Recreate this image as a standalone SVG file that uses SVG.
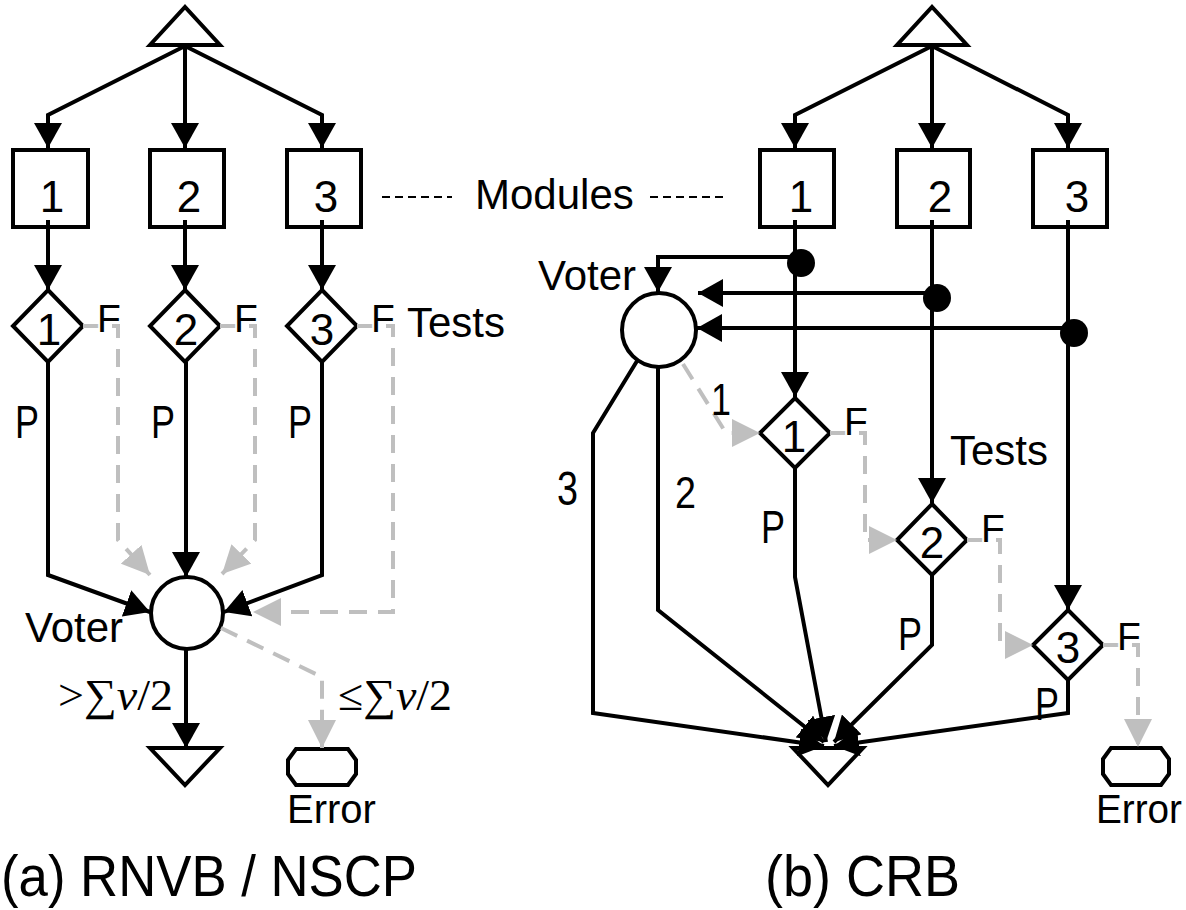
<svg xmlns="http://www.w3.org/2000/svg" width="1186" height="910" viewBox="0 0 1186 910">
<style>
.ln{stroke:#000;stroke-width:4;fill:none;stroke-linejoin:miter}
.gl{stroke:#bfbfbf;stroke-width:4;fill:none;stroke-dasharray:18 11}
.sh{fill:#fff;stroke:#000;stroke-width:4;stroke-linejoin:miter}
.t{font-family:"Liberation Sans",Arial,sans-serif;fill:#000}
.dg{font-size:44px;text-anchor:middle}
.lb{font-size:42px}
.f{font-size:39px;stroke:#fff;stroke-width:4;paint-order:stroke}
.p{font-size:46px}
.m{font-family:"Liberation Serif","Times New Roman",serif;font-size:44px;fill:#000}
.dash{stroke:#000;stroke-width:2;stroke-dasharray:8 5;fill:none}
</style>
<defs>
<marker id="ab" viewBox="0 0 25 28" refX="25" refY="14" markerWidth="25" markerHeight="28" orient="auto" markerUnits="userSpaceOnUse"><path d="M0,0L25,14L0,28Z" fill="#000"/></marker>
<marker id="ag" viewBox="0 0 28 28" refX="28" refY="14" markerWidth="28" markerHeight="28" orient="auto" markerUnits="userSpaceOnUse"><path d="M0,0L28,14L0,28Z" fill="#bfbfbf"/></marker>
</defs>
<rect width="1186" height="910" fill="#fff"/>

<!-- Panel (a) nodes -->
<g id="a-start"><polygon class="sh" points="150,45 220,45 185,7"/></g>
<g id="a-m1"><rect class="sh" x="13" y="150" width="75" height="77"/><text class="t dg" x="52" y="212">1</text></g>
<g id="a-m2"><rect class="sh" x="150" y="150" width="74" height="77"/><text class="t dg" x="189" y="212">2</text></g>
<g id="a-m3"><rect class="sh" x="287" y="150" width="74" height="77"/><text class="t dg" x="326" y="212">3</text></g>
<g id="a-t1"><polygon class="sh" points="48,290 83,326 48,362 13,326"/><text class="t dg" x="49" y="345">1</text></g>
<g id="a-t2"><polygon class="sh" points="185,290 220,326 185,362 150,326"/><text class="t dg" x="186" y="345">2</text></g>
<g id="a-t3"><polygon class="sh" points="322,290 357,326 322,362 287,326"/><text class="t dg" x="322" y="345">3</text></g>
<g id="a-voter"><circle class="sh" cx="187" cy="613" r="36"/><text class="t lb" x="25" y="642">Voter</text></g>
<g id="a-end"><polygon class="sh" points="150,748 220,748 185,785"/></g>
<g id="a-error"><path class="sh" d="M296,749L348,749L356,760L356,774L348,785L296,785L288,774L288,760Z" stroke-linejoin="round"/><text class="t" font-size="40" x="287" y="823">Error</text></g>

<!-- Panel (b) nodes -->
<g id="b-start"><polygon class="sh" points="897,45 967,45 932,7"/></g>
<g id="b-m1"><rect class="sh" x="760" y="150" width="74" height="77"/><text class="t dg" x="801" y="212">1</text></g>
<g id="b-m2"><rect class="sh" x="897" y="150" width="73" height="77"/><text class="t dg" x="940" y="212">2</text></g>
<g id="b-m3"><rect class="sh" x="1033" y="150" width="74" height="77"/><text class="t dg" x="1077" y="212">3</text></g>
<g id="b-voter"><circle class="sh" cx="659" cy="330" r="37"/><text class="t lb" x="538" y="290">Voter</text></g>
<g id="b-t1"><polygon class="sh" points="795,398 830,433 795,468 760,433"/><text class="t dg" x="794" y="452">1</text></g>
<g id="b-t2"><polygon class="sh" points="932,504 967,540 932,575 897,540"/><text class="t dg" x="932" y="558">2</text></g>
<g id="b-t3"><polygon class="sh" points="1068,610 1103,645 1068,680 1033,645"/><text class="t dg" x="1068" y="663">3</text></g>
<g id="b-end"><polygon class="sh" points="793,748 863,748 828,785"/></g>
<g id="b-error"><path class="sh" d="M1111,748L1161,748L1169,759L1169,774L1161,785L1111,785L1103,774L1103,759Z" stroke-linejoin="round"/><text class="t" font-size="40" x="1096" y="823" textLength="86" lengthAdjust="spacingAndGlyphs">Error</text></g>

<!-- Connectors -->
<g id="connectors">
<!-- (a) fan-out -->
<path class="ln" d="M185,46L48,115L48,148" marker-end="url(#ab)"/>
<path class="ln" d="M185,46L185,148" marker-end="url(#ab)"/>
<path class="ln" d="M185,46L322,115L322,148" marker-end="url(#ab)"/>
<path class="ln" d="M48,220L48,290" marker-end="url(#ab)"/>
<path class="ln" d="M185,220L185,290" marker-end="url(#ab)"/>
<path class="ln" d="M322,220L322,290" marker-end="url(#ab)"/>
<path class="ln" d="M48,362L48,575L150,612" marker-end="url(#ab)"/>
<path class="ln" d="M186,362L186,577" marker-end="url(#ab)"/>
<path class="ln" d="M322,362L322,575L224,612" marker-end="url(#ab)"/>
<path class="ln" d="M186,649L186,748" marker-end="url(#ab)"/>
<path class="gl" d="M83,326L118,326L118,540L150,575" marker-end="url(#ag)"/>
<path class="gl" d="M220,326L255,326L255,540L222,574" marker-end="url(#ag)"/>
<path class="gl" d="M357,326L393,326L393,612L253,612" marker-end="url(#ag)"/>
<path class="gl" d="M221,628L322,677L322,748" marker-end="url(#ag)"/>
<!-- (b) fan-out -->
<path class="ln" d="M932,46L795,115L795,148" marker-end="url(#ab)"/>
<path class="ln" d="M932,46L932,148" marker-end="url(#ab)"/>
<path class="ln" d="M932,46L1068,115L1068,148" marker-end="url(#ab)"/>
<path class="ln" d="M795,220L795,397" marker-end="url(#ab)"/>
<path class="ln" d="M932,220L932,503" marker-end="url(#ab)"/>
<path class="ln" d="M1068,220L1068,610" marker-end="url(#ab)"/>
<path class="ln" d="M797,257L658,257L658,292" marker-end="url(#ab)"/>
<path class="ln" d="M934,293L698,293" marker-end="url(#ab)"/>
<path class="ln" d="M1070,328L697,328" marker-end="url(#ab)"/>
<circle cx="801" cy="263" r="14" fill="#000"/>
<circle cx="937" cy="298" r="14" fill="#000"/>
<circle cx="1074" cy="333" r="14" fill="#000"/>
<path class="ln" d="M637,361L593,433L593,713L824,746" marker-end="url(#ab)"/>
<path class="ln" d="M658,367L658,610L824,742" marker-end="url(#ab)"/>
<path class="ln" d="M795,468L795,577L826,742" marker-end="url(#ab)"/>
<path class="ln" d="M932,575L932,645L834,742" marker-end="url(#ab)"/>
<path class="ln" d="M1068,680L1068,713L834,746" marker-end="url(#ab)"/>
<path class="gl" d="M683,364L726,433L760,433" marker-end="url(#ag)"/>
<path class="gl" d="M830,433L865,433L865,540L897,540" marker-end="url(#ag)"/>
<path class="gl" d="M967,540L1000,540L1000,645L1033,645" marker-end="url(#ag)"/>
<path class="gl" d="M1103,645L1138,645L1138,747" marker-end="url(#ag)"/>
</g>

<!-- Labels -->
<g id="labels">
<text class="t f" x="97" y="332">F</text>
<text class="t f" x="234" y="332">F</text>
<text class="t f" x="371" y="332">F</text>
<text class="t lb" font-size="41" x="407" y="337">Tests</text>
<text class="t p" x="15" y="438" textLength="24" lengthAdjust="spacingAndGlyphs">P</text>
<text class="t p" x="151" y="438" textLength="24" lengthAdjust="spacingAndGlyphs">P</text>
<text class="t p" x="288" y="438" textLength="24" lengthAdjust="spacingAndGlyphs">P</text>
<text class="m" x="58" y="710" textLength="115" lengthAdjust="spacingAndGlyphs">&gt;∑<tspan font-style="italic">v</tspan>/2</text>
<text class="m" x="338" y="710" textLength="114" lengthAdjust="spacingAndGlyphs">≤∑<tspan font-style="italic">v</tspan>/2</text>
<text class="t" font-size="57" x="1" y="896" textLength="416" lengthAdjust="spacingAndGlyphs">(a) RNVB / NSCP</text>

<line class="dash" x1="382" y1="197" x2="452" y2="197"/>
<text class="t lb" x="475" y="209">Modules</text>
<line class="dash" x1="650" y1="197" x2="728" y2="197"/>

<text class="t f" x="844" y="435">F</text>
<text class="t f" x="981" y="542">F</text>
<text class="t f" x="1117" y="650">F</text>
<text class="t lb" font-size="41" x="950" y="465">Tests</text>
<text class="t p" font-size="44" x="761" y="543" textLength="24" lengthAdjust="spacingAndGlyphs">P</text>
<text class="t p" font-size="44" x="898" y="650" textLength="24" lengthAdjust="spacingAndGlyphs">P</text>
<text class="t p" font-size="44" x="1035" y="720" textLength="24" lengthAdjust="spacingAndGlyphs">P</text>
<text class="t" font-size="44" x="711" y="415" textLength="20" lengthAdjust="spacingAndGlyphs">1</text>
<text class="t" font-size="48" x="557" y="505" textLength="21" lengthAdjust="spacingAndGlyphs">3</text>
<text class="t" font-size="44" x="675" y="508" textLength="21" lengthAdjust="spacingAndGlyphs">2</text>
<text class="t" font-size="57" x="765" y="896" textLength="195" lengthAdjust="spacingAndGlyphs">(b) CRB</text>
</g>
</svg>
